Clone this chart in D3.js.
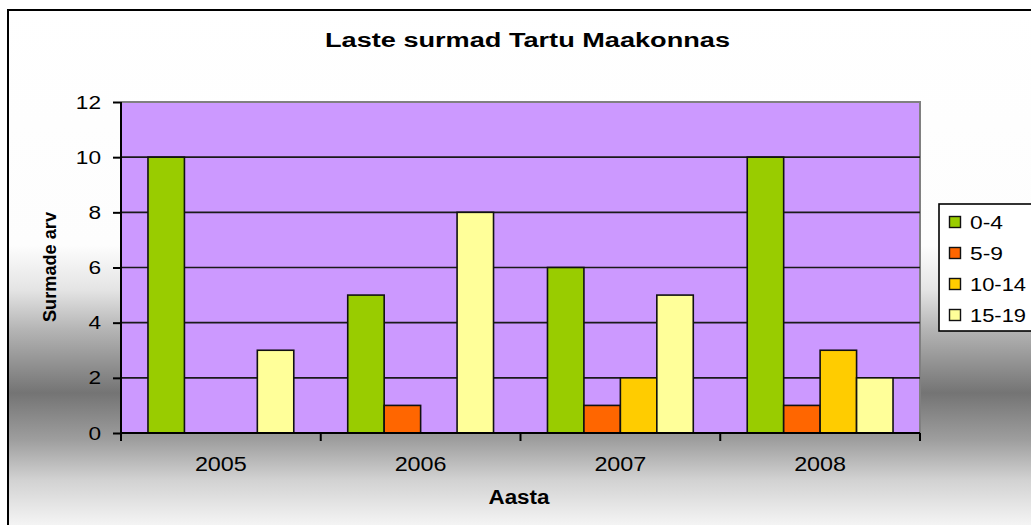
<!DOCTYPE html>
<html><head><meta charset="utf-8">
<script src="https://cdn.jsdelivr.net/npm/d3@7"></script>
<style>html,body{margin:0;padding:0;background:#fff;overflow:hidden}svg{display:block}text{font-family:"Liberation Sans",Arial,sans-serif;fill:#000}</style>
</head><body><svg id="c" width="1031" height="525"></svg>
<script>
const years = ["2005","2006","2007","2008"];
const groups = ["0-4","5-9","10-14","15-19"];
const s0_4 = [10,5,6,10];
const s5_9 = [0,1,1,1];
const s10_14 = [0,0,2,3];
const s15_19 = [3,8,5,2];
const seriesValues = [s0_4, s5_9, s10_14, s15_19];
const colors = ["#99CC00","#FF6600","#FFCC00","#FFFF99"];
const yTicks = [0,2,4,6,8,10,12];
const title = "Laste surmad Tartu Maakonnas";
const yTitle = "Surmade arv";
const xTitle = "Aasta";

const svg = d3.select("#c");
const defs = svg.append("defs");
const g = defs.append("linearGradient").attr("id","bg").attr("gradientUnits","userSpaceOnUse")
  .attr("x1",0).attr("y1",0).attr("x2",0).attr("y2",525);
[[0,"#ffffff"],[245,"#fdfdfd"],[290,"#e4e4e4"],[330,"#b4b4b4"],[393,"#747474"],[440,"#9e9e9e"],[480,"#d2d2d2"],[525,"#f4f4f4"]]
  .forEach(([o,c])=>g.append("stop").attr("offset",o/525).attr("stop-color",c));

svg.append("rect").attr("x",8).attr("y",10).attr("width",1100).attr("height",600)
  .attr("fill","url(#bg)").attr("stroke","#000").attr("stroke-width",2);

const L=121,R=920,T=102,B=433;
const x0 = d3.scaleBand().domain(years).range([L,R]).paddingInner(0).paddingOuter(0);
const x1 = d3.scaleBand().domain(groups).range([0,x0.bandwidth()]).paddingInner(0).paddingOuter(0.74);
const y = d3.scaleLinear().domain([0,12]).range([B,T]);

svg.append("rect").attr("x",L).attr("y",T).attr("width",R-L).attr("height",B-T).attr("fill","#CC99FF");
svg.append("path").attr("d",`M${L},${T}H${R}V${B}`).attr("fill","none").attr("stroke","#808080").attr("stroke-width",2);

svg.append("g").selectAll("line").data(yTicks.filter(t=>t>0&&t<12)).join("line")
  .attr("x1",L).attr("x2",R).attr("y1",d=>y(d)).attr("y2",d=>y(d))
  .attr("stroke","#1a1a1a").attr("stroke-width",1.6);

const data = [];
years.forEach((yr,i)=>groups.forEach((gr,j)=>data.push({yr,gr,v:seriesValues[j][i],c:colors[j]})));
svg.append("g").selectAll("rect").data(data.filter(d=>d.v>0)).join("rect")
  .attr("x",d=>x0(d.yr)+x1(d.gr)).attr("width",x1.bandwidth())
  .attr("y",d=>y(d.v)).attr("height",d=>y(0)-y(d.v))
  .attr("fill",d=>d.c).attr("stroke","#111").attr("stroke-width",1.6);

const yAxis = svg.append("g").attr("transform",`translate(${L},0)`)
  .call(d3.axisLeft(y).tickValues(yTicks).tickSize(8).tickFormat(""));
yAxis.select(".domain").attr("stroke","#000").attr("stroke-width",2).attr("d",`M0,${T}V${B}`);
yAxis.selectAll(".tick line").attr("stroke","#000").attr("stroke-width",2);

const xAxis = svg.append("g").attr("transform",`translate(0,${B})`)
  .call(d3.axisBottom(x0).tickSize(0).tickFormat(""));
xAxis.select(".domain").attr("stroke","#000").attr("stroke-width",2).attr("d",`M${L},0H${R}`);
const xt = years.map(yv=>x0(yv)).concat([R]);
svg.append("g").selectAll("line").data(xt).join("line")
  .attr("x1",d=>d).attr("x2",d=>d).attr("y1",B).attr("y2",B+8).attr("stroke","#000").attr("stroke-width",2);

function txt(s, x, yy, size, bold, len, anchor){
  return svg.append("text").attr("x",x).attr("y",yy).attr("font-size",size)
    .attr("font-weight",bold?"bold":"normal").attr("text-anchor",anchor||"middle")
    .attr("textLength",len).attr("lengthAdjust","spacingAndGlyphs").text(s);
}
yTicks.forEach(t=>{
  const s=String(t);
  txt(s, 101, y(t)+6.5, 17.5, false, s.length*12.6, "end");
});
years.forEach(yr=>txt(yr, x0(yr)+x0.bandwidth()/2, 471, 19.5, false, 52));
txt(title, 527.5, 47, 20, true, 405);
txt(xTitle, 519, 504, 19.5, true, 61);
svg.append("text").attr("transform","translate(56,267) rotate(-90)").attr("text-anchor","middle")
  .attr("font-size",17.5).attr("font-weight","bold").attr("textLength",110).attr("lengthAdjust","spacingAndGlyphs").text(yTitle);

svg.append("rect").attr("x",939).attr("y",204).attr("width",140).attr("height",127)
  .attr("fill","#fff").attr("stroke","#000").attr("stroke-width",1.6);
const lw = [33,33,56,56];
groups.forEach((gr,j)=>{
  const cy = 222 + j*31;
  svg.append("rect").attr("x",949.5).attr("y",cy-5.5).attr("width",11).attr("height",11)
    .attr("fill",colors[j]).attr("stroke","#111").attr("stroke-width",1.4);
  txt(gr, 970, cy+7, 18.5, false, lw[j], "start");
});
</script></body></html>
